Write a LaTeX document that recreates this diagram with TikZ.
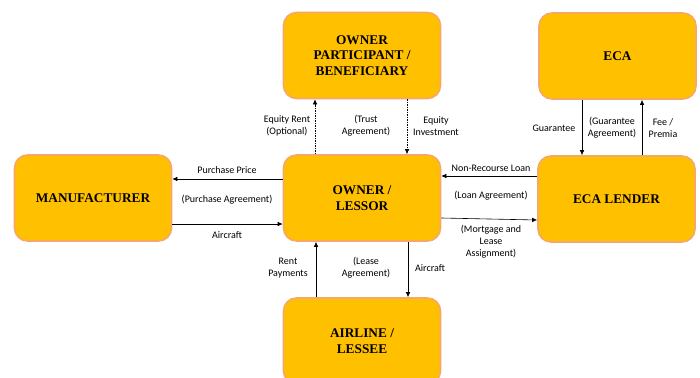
\documentclass[tikz,border=0pt]{standalone}
\usepackage{fontspec}
\setmainfont{Liberation Serif}
\newfontfamily\lblfont{Carlito}
\usepackage{xcolor}
\usetikzlibrary{positioning, arrows.meta}

\definecolor{boxfill}{HTML}{FFC000}
\definecolor{boxline}{HTML}{F6A868}

\begin{document}
\begin{tikzpicture}[
    x=1pt, y=-1pt,
    party/.style={rectangle, rounded corners=13pt, draw=boxline, line width=1.6pt,
        fill=boxfill, minimum width=157pt, minimum height=86pt, align=center,
        font=\bfseries\fontsize{13.3}{15.5}\selectfont},
    lbl/.style={align=center, inner sep=1pt, font=\lblfont\fontsize{10}{12}\selectfont},
    flow/.style={-{Latex[length=5pt,width=4.5pt]}, line width=0.6pt},
    dotflow/.style={flow, dash pattern=on 1.5pt off 1pt}
]
    \useasboundingbox (0,0) rectangle (700,377);
    \clip (0,0) rectangle (700,377);

    % Parties
    \node[party] (part) at (362,55.5) {OWNER\\PARTICIPANT /\\BENEFICIARY};
    \node[party] (eca) at (617.5,56) {ECA};
    \node[party] (manu) at (93,198) {MANUFACTURER};
    \node[party] (lessor) at (362,198) {OWNER /\\LESSOR};
    \node[party] (lender) at (616.5,199) {ECA LENDER};
    \node[party] (airline) at (362,341) {AIRLINE /\\LESSEE};

    % Owner participant <-> owner lessor
    \draw[dotflow] ([xshift=-47pt]lessor.north) -- ([xshift=-47pt]part.south);
    \draw[dotflow] ([xshift=45pt]part.south) -- ([xshift=45pt]lessor.north);
    \node[lbl] (eqrent) at (287,126) {Equity Rent\\(Optional)};
    \node[lbl] (trust) at (366,126) {(Trust\\Agreement)};
    \node[lbl] (eqinv) at (436,126) {Equity\\Investment};

    % Manufacturer <-> owner lessor
    \draw[flow] ([yshift=19pt]lessor.west) -- ([yshift=19pt]manu.east);
    \draw[flow] ([yshift=-26pt]manu.east) -- ([yshift=-26pt]lessor.west);
    \node[lbl] (price) at (227,170) {Purchase Price};
    \node[lbl] (purch) at (227,200) {(Purchase Agreement)};
    \node[lbl] (acin) at (227,235) {Aircraft};

    % Airline <-> owner lessor
    \draw[flow] ([xshift=-46pt]airline.north) -- ([xshift=-46pt]lessor.south);
    \draw[flow] ([xshift=46pt]lessor.south) -- ([xshift=46pt]airline.north);
    \node[lbl] (rent) at (288,268) {Rent\\Payments};
    \node[lbl] (lease) at (366,268) {(Lease\\Agreement)};
    \node[lbl] (acout) at (430,268) {Aircraft};

    % ECA lender <-> owner lessor
    \draw[flow] ([yshift=23pt]lender.west) -- ([yshift=22pt]lessor.east);
    \draw[flow] ([yshift=-20pt]lessor.east) -- ([yshift=-21pt]lender.west);
    \node[lbl] (loan) at (491,168) {Non-Recourse Loan};
    \node[lbl] (loanagr) at (491,196) {(Loan Agreement)};
    \node[lbl] (mortg) at (491,242) {(Mortgage and\\Lease\\Assignment)};

    % ECA <-> ECA lender
    \draw[flow] ([xshift=-35.5pt]eca.south) -- ([xshift=-34.5pt]lender.north);
    \draw[flow] ([xshift=25.5pt]lender.north) -- ([xshift=24.5pt]eca.south);
    \node[lbl] (guar) at (554,128) {Guarantee};
    \node[lbl] (guaragr) at (612,128) {(Guarantee\\Agreement)};
    \node[lbl] (fee) at (663,128) {Fee /\\Premia};
\end{tikzpicture}
\end{document}
